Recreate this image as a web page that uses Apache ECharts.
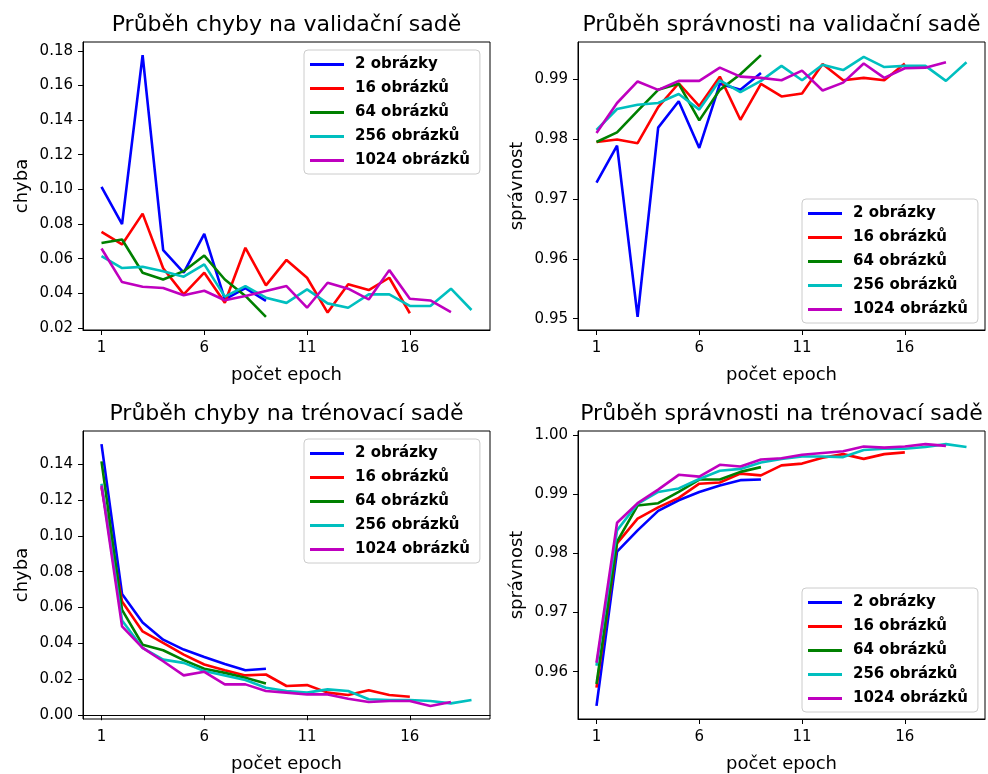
<!DOCTYPE html>
<html><head><meta charset="utf-8">
<script src="https://cdn.jsdelivr.net/npm/echarts@6/dist/echarts.min.js"></script>
<style>html,body{margin:0;padding:0;background:#fff}#c{width:988px;height:774px}</style>
</head><body><div id="c"></div>
<script>
const seriesNames = ['2 obrázky', '16 obrázků', '64 obrázků', '256 obrázků', '1024 obrázků'];
const seriesColors = ['#0000ff', '#ff0000', '#008000', '#00bfbf', '#bf00bf'];

const valLoss2 = [0.1014, 0.0800, 0.1775, 0.0649, 0.0519, 0.0743, 0.0365, 0.0430, 0.0356];
const valLoss16 = [0.0755, 0.0682, 0.0860, 0.0545, 0.0394, 0.0519, 0.0346, 0.0663, 0.0446, 0.0593, 0.0490, 0.0289, 0.0452, 0.0419, 0.0490, 0.0285];
const valLoss64 = [0.0691, 0.0711, 0.0519, 0.0480, 0.0528, 0.0618, 0.0480, 0.0385, 0.0264];
const valLoss256 = [0.0615, 0.0546, 0.0553, 0.0528, 0.0496, 0.0567, 0.0381, 0.0442, 0.0375, 0.0345, 0.0423, 0.0342, 0.0317, 0.0394, 0.0394, 0.0327, 0.0327, 0.0427, 0.0304];
const valLoss1024 = [0.0659, 0.0465, 0.0438, 0.0431, 0.0389, 0.0415, 0.0360, 0.0385, 0.0413, 0.0442, 0.0317, 0.0461, 0.0427, 0.0365, 0.0534, 0.0369, 0.0359, 0.0292];

const valAcc2 = [0.9727, 0.9789, 0.9503, 0.9819, 0.9863, 0.9785, 0.9892, 0.9882, 0.9910];
const valAcc16 = [0.9795, 0.9799, 0.9793, 0.9853, 0.9893, 0.9855, 0.9904, 0.9832, 0.9892, 0.9871, 0.9876, 0.9925, 0.9898, 0.9902, 0.9898, 0.9926];
const valAcc64 = [0.9795, 0.9811, 0.9847, 0.9882, 0.9892, 0.9831, 0.9882, 0.9908, 0.9940];
const valAcc256 = [0.9815, 0.9850, 0.9857, 0.9860, 0.9875, 0.9849, 0.9898, 0.9878, 0.9897, 0.9922, 0.9898, 0.9924, 0.9915, 0.9937, 0.9920, 0.9922, 0.9922, 0.9897, 0.9928];
const valAcc1024 = [0.9810, 0.9860, 0.9896, 0.9882, 0.9897, 0.9897, 0.9919, 0.9904, 0.9902, 0.9898, 0.9914, 0.9881, 0.9894, 0.9926, 0.9902, 0.9918, 0.9919, 0.9928];

const trainLoss2 = [0.1511, 0.0676, 0.0517, 0.0421, 0.0366, 0.0325, 0.0286, 0.0251, 0.0259];
const trainLoss16 = [0.1270, 0.0634, 0.0467, 0.0403, 0.0338, 0.0283, 0.0251, 0.0222, 0.0227, 0.0163, 0.0168, 0.0126, 0.0113, 0.0139, 0.0113, 0.0103];
const trainLoss64 = [0.1415, 0.0587, 0.0393, 0.0362, 0.0307, 0.0259, 0.0236, 0.0209, 0.0177];
const trainLoss256 = [0.1290, 0.0528, 0.0375, 0.0310, 0.0292, 0.0246, 0.0222, 0.0196, 0.0153, 0.0135, 0.0126, 0.0144, 0.0135, 0.0089, 0.0085, 0.0085, 0.0079, 0.0066, 0.0085];
const trainLoss1024 = [0.1280, 0.0495, 0.0375, 0.0301, 0.0222, 0.0242, 0.0172, 0.0172, 0.0135, 0.0126, 0.0116, 0.0116, 0.0092, 0.0074, 0.0079, 0.0079, 0.0052, 0.0074];

const trainAcc2 = [0.9542, 0.9803, 0.9839, 0.9872, 0.9890, 0.9904, 0.9915, 0.9924, 0.9925];
const trainAcc16 = [0.9573, 0.9817, 0.9859, 0.9878, 0.9894, 0.9918, 0.9920, 0.9935, 0.9932, 0.9949, 0.9952, 0.9962, 0.9968, 0.9960, 0.9968, 0.9971];
const trainAcc64 = [0.9579, 0.9820, 0.9881, 0.9885, 0.9904, 0.9925, 0.9925, 0.9938, 0.9946];
const trainAcc256 = [0.9610, 0.9839, 0.9884, 0.9904, 0.9910, 0.9926, 0.9940, 0.9943, 0.9954, 0.9960, 0.9964, 0.9964, 0.9963, 0.9975, 0.9977, 0.9977, 0.9980, 0.9985, 0.9980];
const trainAcc1024 = [0.9615, 0.9852, 0.9885, 0.9908, 0.9933, 0.9930, 0.9950, 0.9947, 0.9959, 0.9961, 0.9967, 0.9970, 0.9973, 0.9981, 0.9979, 0.9981, 0.9985, 0.9982];

const xTicks = [1, 6, 11, 16];
const yTicksValLoss = [0.02, 0.04, 0.06, 0.08, 0.10, 0.12, 0.14, 0.16, 0.18];
const yTicksValAcc = [0.95, 0.96, 0.97, 0.98, 0.99];
const yTicksTrainLoss = [0.00, 0.02, 0.04, 0.06, 0.08, 0.10, 0.12, 0.14];
const yTicksTrainAcc = [0.96, 0.97, 0.98, 0.99, 1.00];

const titles = ['Průběh chyby na validační sadě', 'Průběh správnosti na validační sadě', 'Průběh chyby na trénovací sadě', 'Průběh správnosti na trénovací sadě'];
const yNames = ['chyba', 'správnost', 'chyba', 'správnost'];
const xName = 'počet epoch';

const panels = [
  {sets: [valLoss2, valLoss16, valLoss64, valLoss256, valLoss1024], yt: yTicksValLoss},
  {sets: [valAcc2, valAcc16, valAcc64, valAcc256, valAcc1024], yt: yTicksValAcc},
  {sets: [trainLoss2, trainLoss16, trainLoss64, trainLoss256, trainLoss1024], yt: yTicksTrainLoss},
  {sets: [trainAcc2, trainAcc16, trainAcc64, trainAcc256, trainAcc1024], yt: yTicksTrainAcc}
];

const FONT = 'DejaVu Sans';
const gridPos = [
  {left: 83, top: 42}, {left: 578, top: 42}, {left: 83, top: 431}, {left: 578, top: 431}
];
const legendPos = [
  {left: 304, top: 50}, {left: 802, top: 199}, {left: 304, top: 439}, {left: 802, top: 588}
];
const GW = 407, GH = 288;

const grid = [], xAxis = [], yAxis = [], series = [], title = [], legend = [];
panels.forEach((p, i) => {
  grid.push({left: gridPos[i].left, top: gridPos[i].top, width: GW, height: GH, show: true, borderColor: '#000', borderWidth: 1, backgroundColor: 'transparent'});
  let maxLen = 0, vmin = Infinity, vmax = -Infinity;
  p.sets.forEach(s => { maxLen = Math.max(maxLen, s.length); s.forEach(v => { vmin = Math.min(vmin, v); vmax = Math.max(vmax, v); }); });
  const xr = maxLen - 1, yr = vmax - vmin;
  xAxis.push({
    type: 'value', gridIndex: i, min: 1 - 0.05 * xr, max: maxLen + 0.05 * xr,
    name: xName, nameLocation: 'middle', nameGap: 36,
    nameTextStyle: {fontFamily: FONT, fontSize: 18, color: '#000'},
    axisLine: {show: true, lineStyle: {color: '#000', width: 1}},
    axisTick: {show: true, length: 5, lineStyle: {color: '#000'}, customValues: xTicks},
    axisLabel: {fontFamily: FONT, fontSize: 15, color: '#000', margin: 11, customValues: xTicks},
    splitLine: {show: false}
  });
  yAxis.push({
    type: 'value', gridIndex: i, min: vmin - 0.05 * yr, max: vmax + 0.05 * yr,
    name: yNames[i], nameLocation: 'middle', nameGap: 52,
    nameTextStyle: {fontFamily: FONT, fontSize: 18, color: '#000'},
    axisLine: {show: true, lineStyle: {color: '#000', width: 1}},
    axisTick: {show: true, length: 5, lineStyle: {color: '#000'}, customValues: p.yt},
    axisLabel: {fontFamily: FONT, fontSize: 15, color: '#000', margin: 10, customValues: p.yt, formatter: v => v.toFixed(2)},
    splitLine: {show: false}
  });
  p.sets.forEach((s, k) => {
    series.push({
      type: 'line', name: seriesNames[k], xAxisIndex: i, yAxisIndex: i,
      data: s.map((v, j) => [j + 1, v]),
      showSymbol: false, symbol: 'none',
      lineStyle: {color: seriesColors[k], width: 2.6},
      itemStyle: {color: seriesColors[k]},
      animation: false
    });
  });
  title.push({
    text: titles[i], left: gridPos[i].left + GW / 2, top: gridPos[i].top - 28, textAlign: 'center', padding: 0,
    textStyle: {fontFamily: FONT, fontSize: 22, fontWeight: 'normal', color: '#000'}
  });
  legend.push({
    data: seriesNames, orient: 'vertical', left: legendPos[i].left, top: legendPos[i].top,
    padding: [7, 10, 6, 6], itemGap: 9, itemWidth: 34, itemHeight: 3, icon: 'rect',
    backgroundColor: 'rgba(255,255,255,0.85)', borderColor: '#cccccc', borderWidth: 1, borderRadius: 4,
    textStyle: {fontFamily: FONT, fontSize: 15, fontWeight: 'bold', color: '#000', lineHeight: 15, padding: [0, 0, 0, 6]},
    selectedMode: false
  });
});

const chart = echarts.init(document.getElementById('c'), null, {renderer: 'canvas'});
chart.setOption({animation: false, backgroundColor: '#fff', title, legend, grid, xAxis, yAxis, series});
</script>
</body></html>
